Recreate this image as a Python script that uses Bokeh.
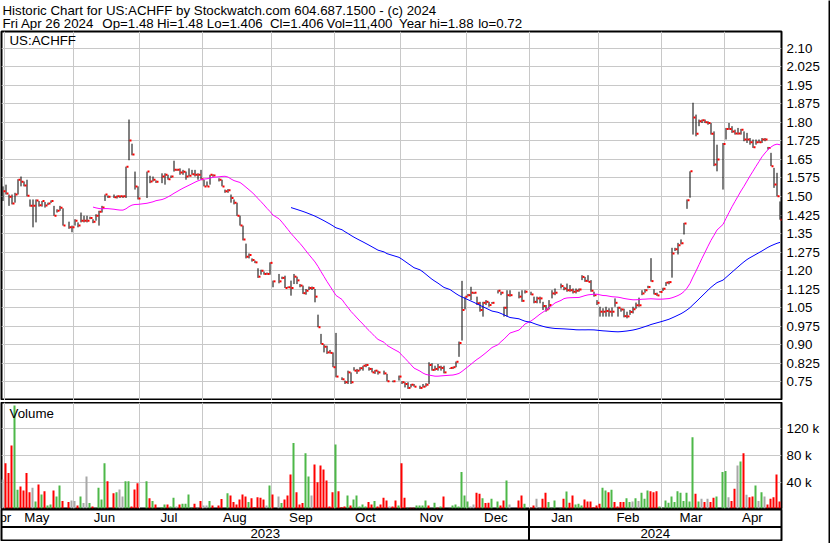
import pandas as pd
from bokeh.plotting import figure
from bokeh.models import Range1d, FixedTicker, Span, CustomJSTickFormatter
from bokeh.layouts import column, row
from bokeh.embed import file_html
from bokeh.resources import INLINE
from bokeh.core.properties import value

# ---------------------------------------------------------------------------
# Daily data, one entry per weekday: slot 0 = Fri 28 Apr 2023 ... slot 260 = Fri 26 Apr 2024.
# None = no trade that day.
# ---------------------------------------------------------------------------
symbol = "US:ACHFF"
last_open = 1.48

high = [
    None, 1.541, 1.548, 1.508, 1.508, 1.515, 1.570, 1.581, 1.561, 1.568,
    1.488, 1.488, 1.488, 1.482, 1.482, 1.478, 1.475, 1.484, 1.462, 1.448,
    1.462, 1.452, None, 1.398, 1.382, 1.408, 1.395, 1.435, 1.422, 1.422,
    1.418, 1.408, 1.428, 1.442, 1.462, 1.508, 1.504, None, 1.508, 1.504,
    1.504, 1.504, 1.621, 1.812, 1.714, 1.601, 1.541, None, None, 1.601,
    1.584, 1.581, 1.565, None, 1.594, 1.594, 1.588, 1.585, 1.645, 1.612,
    1.614, 1.608, 1.601, 1.614, 1.608, 1.608, 1.594, 1.608, 1.568, 1.561,
    1.588, 1.590, None, 1.574, 1.568, 1.528, 1.530, 1.508, 1.488, 1.475,
    1.422, 1.382, 1.309, 1.269, 1.249, 1.240, 1.209, 1.203, 1.196, 1.192,
    1.233, 1.159, None, 1.186, 1.175, 1.179, 1.135, 1.159, 1.186, 1.175,
    1.145, 1.139, 1.125, 1.135, 1.135, 1.125, 1.021, 0.943, 0.900, 0.895,
    0.878, 0.868, 0.947, None, 0.767, 0.754, 0.794, 0.787, 0.808, 0.801,
    0.808, 0.814, 0.821, 0.808, 0.805, 0.797, 0.794, None, 0.794, 0.781,
    None, 0.754, None, 0.774, 0.751, 0.747, 0.747, 0.740, 0.740, None,
    0.733, 0.740, 0.743, 0.828, 0.824, 0.814, 0.821, 0.814, 0.814, None,
    0.805, 0.810, 0.831, 0.912, 1.158, 1.094, 1.105, 1.134, 1.112, 1.094,
    1.073, 1.073, 1.080, 1.073, 1.072, None, 1.120, 1.114, 1.053, 1.120,
    1.120, None, None, 1.114, 1.120, 1.120, None, 1.114, 1.094, 1.094,
    1.094, 1.073, 1.060, 1.080, 1.120, 1.127, None, 1.147, 1.134, 1.147,
    1.141, 1.127, 1.127, 1.127, 1.181, 1.174, 1.181, 1.161, 1.114, 1.080,
    1.053, 1.047, 1.053, 1.047, 1.050, 1.087, 1.053, 1.047, 1.045, 1.033,
    1.040, 1.053, 1.070, 1.090, 1.120, 1.124, 1.138, 1.250, 1.124, 1.110,
    1.117, 1.130, 1.153, 1.157, 1.292, 1.292, 1.312, 1.326, 1.393, 1.488,
    1.602, 1.880, 1.832, 1.812, 1.812, 1.812, 1.805, 1.798, 1.764, 1.710,
    None, 1.717, 1.778, 1.798, 1.785, 1.771, 1.778, 1.774, 1.764, 1.758,
    1.737, 1.731, 1.731, 1.731, 1.737, 1.737, 1.701, 1.677, 1.616, 1.596, 1.480,
]

low = [
    None, 1.482, 1.508, 1.462, 1.468, 1.475, 1.508, 1.541, 1.541, 1.501,
    1.459, 1.375, 1.395, 1.459, 1.459, 1.455, 1.465, 1.474, 1.422, 1.435,
    1.442, 1.382, None, 1.369, 1.355, 1.382, 1.375, 1.395, 1.395, 1.395,
    1.408, 1.392, 1.402, 1.382, 1.435, 1.482, 1.494, None, 1.494, 1.492,
    1.494, 1.494, 1.494, 1.647, 1.667, 1.528, 1.488, None, None, 1.494,
    1.554, 1.561, 1.555, None, 1.554, 1.548, 1.568, 1.575, 1.601, 1.604,
    1.588, 1.588, 1.568, 1.581, 1.588, 1.581, 1.568, 1.568, 1.541, 1.541,
    1.548, 1.580, None, 1.561, 1.541, 1.515, 1.515, 1.475, 1.468, 1.422,
    1.382, 1.322, 1.249, 1.249, 1.236, 1.230, 1.170, 1.183, 1.183, 1.183,
    1.183, 1.132, None, 1.148, 1.165, 1.129, 1.129, 1.098, 1.145, 1.145,
    1.132, 1.105, 1.102, 1.121, 1.121, 1.071, 0.970, 0.902, 0.868, 0.862,
    0.864, 0.808, 0.767, None, 0.756, 0.740, 0.740, 0.740, 0.794, 0.781,
    0.794, 0.794, 0.808, 0.794, 0.787, 0.781, 0.778, None, 0.778, 0.751,
    None, 0.747, None, 0.754, 0.740, 0.726, 0.720, 0.726, 0.729, None,
    0.720, 0.726, 0.729, 0.740, 0.794, 0.794, 0.794, 0.794, 0.783, None,
    0.801, 0.801, 0.808, 0.850, 0.916, 1.042, 1.095, 1.080, 1.105, 1.060,
    1.033, 1.013, 1.060, 1.053, 1.065, None, 1.107, 1.100, 1.013, 1.013,
    1.094, None, None, 1.087, 1.073, 1.107, None, 1.100, 1.067, 1.067,
    1.067, 1.040, 1.033, 1.042, 1.087, 1.100, None, 1.127, 1.120, 1.114,
    1.114, 1.107, 1.107, 1.114, 1.161, 1.154, 1.154, 1.114, 1.094, 1.060,
    1.013, 1.013, 1.013, 1.013, 1.013, 1.053, 1.013, 1.033, 1.010, 1.006,
    1.020, 1.026, 1.045, 1.053, 1.100, 1.110, 1.128, 1.155, 1.103, 1.097,
    1.110, 1.117, 1.137, 1.144, 1.171, 1.279, 1.265, 1.306, 1.346, 1.450,
    1.495, 1.751, 1.744, 1.785, 1.798, 1.798, 1.791, 1.751, 1.623, 1.602,
    None, 1.528, 1.731, 1.771, 1.758, 1.751, 1.751, 1.751, 1.724, 1.717,
    1.710, 1.697, 1.710, 1.717, 1.717, 1.724, 1.690, 1.623, 1.535, 1.501, 1.406,
]

close = [
    None, 1.521, 1.512, 1.499, 1.472, 1.508, 1.568, 1.560, 1.545, 1.503,
    1.462, 1.462, 1.484, 1.465, 1.482, 1.464, 1.472, 1.482, 1.422, 1.442,
    1.454, 1.382, None, 1.375, 1.375, 1.402, 1.382, 1.402, 1.402, 1.402,
    1.413, 1.398, 1.422, 1.438, 1.455, 1.508, 1.499, None, 1.497, 1.501,
    1.501, 1.501, 1.621, 1.727, 1.670, 1.541, 1.492, None, None, 1.601,
    1.561, 1.568, 1.560, None, 1.581, 1.588, 1.570, 1.581, 1.608, 1.608,
    1.597, 1.600, 1.581, 1.584, 1.590, 1.588, 1.588, 1.570, 1.541, 1.541,
    1.588, 1.585, None, 1.568, 1.541, 1.521, 1.525, 1.494, 1.475, 1.422,
    1.382, 1.326, 1.256, 1.263, 1.243, 1.233, 1.175, 1.199, 1.186, 1.186,
    1.231, 1.156, None, 1.156, 1.170, 1.129, 1.132, 1.129, 1.175, 1.160,
    1.139, 1.108, 1.118, 1.129, 1.129, 1.094, 0.970, 0.902, 0.891, 0.868,
    0.866, 0.808, 0.770, None, 0.759, 0.747, 0.787, 0.747, 0.794, 0.794,
    0.804, 0.814, 0.817, 0.801, 0.787, 0.794, 0.787, None, 0.783, 0.751,
    None, 0.751, None, 0.770, 0.747, 0.740, 0.724, 0.737, 0.729, None,
    0.724, 0.729, 0.737, 0.817, 0.797, 0.801, 0.808, 0.805, 0.787, None,
    0.805, 0.808, 0.830, 0.906, 1.040, 1.094, 1.100, 1.110, 1.110, 1.067,
    1.040, 1.069, 1.073, 1.060, 1.069, None, 1.118, 1.110, 1.049, 1.100,
    1.100, None, None, 1.094, 1.077, 1.114, None, 1.103, 1.073, 1.087,
    1.087, 1.056, 1.042, 1.060, 1.107, 1.110, None, 1.137, 1.127, 1.120,
    1.120, 1.114, 1.118, 1.123, 1.174, 1.158, 1.154, 1.118, 1.100, 1.069,
    1.033, 1.033, 1.036, 1.033, 1.033, 1.069, 1.049, 1.042, 1.015, 1.014,
    1.032, 1.043, 1.059, 1.059, 1.107, 1.120, 1.133, 1.157, 1.105, 1.099,
    1.113, 1.126, 1.151, 1.153, 1.269, 1.286, 1.302, 1.310, 1.391, 1.485,
    1.602, 1.820, 1.754, 1.805, 1.809, 1.801, 1.798, 1.754, 1.630, 1.650,
    None, 1.713, 1.774, 1.774, 1.764, 1.755, 1.755, 1.771, 1.731, 1.731,
    1.720, 1.700, 1.720, 1.720, 1.731, 1.731, 1.697, 1.623, 1.549, 1.501, 1.406,
]

# volume in thousands of shares
volume_k = [
    None, 44.2, 68.6, 53.7, 95.1, 155.0, 28.7, 33.7, 27.7, 53.7,
    25.2, 31.7, 11.3, 36.7, 21.7, 26.7, 5.3, 6.8, 27.7, 18.7,
    35.2, 11.8, None, 10.3, 12.8, 11.8, 5.3, 18.7, 8.8, 48.7,
    8.8, 3.8, 1.3, 31.7, 14.3, 68.6, 41.7, None, 23.7, 25.2,
    29.2, 18.7, 41.7, 41.7, 3.8, 29.2, 38.7, None, None, 41.7,
    16.2, 11.8, 6.8, None, 2.8, 6.8, 6.8, 3.8, 16.7, 3.8,
    6.8, 7.8, 7.8, 21.7, 1.8, 7.8, 1.8, 11.8, 5.3, 5.3,
    11.8, 5.3, None, 5.3, 14.8, None, 23.7, 20.2, 10.3, 6.8,
    14.3, 21.7, 18.7, 10.3, 16.2, 2.8, 17.7, 16.7, 14.3, 5.3,
    35.2, 21.7, None, 18.7, 8.8, 14.3, 20.2, 51.7, 98.6, 25.2,
    6.8, 8.8, 83.6, 48.7, 20.2, 66.6, 40.2, 65.1, 59.1, 42.7,
    3.8, 25.2, 96.6, 26.7, 2.8, 3.8, 20.2, 5.3, 14.3, 20.2,
    3.8, 6.8, 3.8, 10.3, 6.8, 11.8, 3.8, 6.8, 16.7, 12.8,
    3.8, 3.8, 12.8, 5.3, 68.6, 16.7, 1.8, 1.8, 1.8, 5.3,
    5.3, 5.3, 12.8, 5.3, 1.3, 9.3, 1.8, 3.8, 18.7, None,
    1.3, 5.3, 6.8, 3.8, 55.2, 20.2, 11.3, 3.8, 6.8, 24.2,
    22.7, 16.2, 8.8, 9.3, 15.3, None, 11.3, 5.3, 12.8, 42.7,
    6.8, None, None, 12.8, 20.2, 7.8, None, 1.8, 5.3, 15.3,
    1.8, 15.3, 24.2, 10.3, 1.8, 12.8, None, 1.8, 15.3, 26.2,
    9.3, 20.2, 6.8, 7.8, 5.3, 14.3, 11.3, 11.3, 2.8, 5.3,
    7.8, 31.7, 27.7, 25.2, 28.7, 10.3, 3.8, 10.3, 10.3, 16.2,
    10.3, 11.3, 16.2, 11.8, 24.2, 15.3, 27.7, 26.7, 25.2, 26.7,
    3.8, 1.8, 12.8, 9.3, 18.7, 10.3, 26.7, 24.2, 11.8, 24.2,
    11.3, 107.5, 22.7, 11.3, 15.3, 10.3, 15.3, 10.3, 16.7, 18.7,
    None, 55.2, 56.7, 17.7, 11.8, 30.2, 65.1, 71.1, 83.6, 21.2,
    17.7, 18.7, 35.2, 11.8, 25.2, 18.7, 6.8, 15.3, 17.7, 51.7, 11.4,
]

# day's move per slot: u = up, d = down, n = unchanged, - = no trade
day_move = (
    "-nddduuddd" "dnududuudu" "ud-dnndunn" "uduuuud-du" "nnuuddd--u"
    "dud-uuduun" "duuuudndnn" "ud-dd-uddd" "dddudddddn" "ud-nudddud"
    "dduunddddd" "dduddduduu" "uuuddudddd" "nddudduddu" "uuuduudud-"
    "uuuuuuunnd" "duddu-uddu" "n--ddu-ddn" "ndduuu-udu" "dduuuddddd"
    "duududdddu" "ununuuuddd" "uuuuuuuuuu" "uudundnddu" "-uunddnudn"
    "ddununddddd"
)

# first weekday slot of each month, May 2023 .. Apr 2024
month_start = [1, 24, 46, 67, 90, 111, 133, 155, 176, 199, 220, 241]
month_names = ["Apr", "May", "Jun", "Jul", "Aug", "Sep", "Oct", "Nov", "Dec",
               "Jan", "Feb", "Mar", "Apr"]
year_names = ["2023", "2024"]

price_ticks = [0.75, 0.825, 0.90, 0.975, 1.05, 1.125, 1.20, 1.275, 1.35, 1.425,
               1.50, 1.575, 1.65, 1.725, 1.80, 1.875, 1.95, 2.025, 2.10]
volume_ticks_k = [40, 80, 120]
ma_short, ma_long = 30, 90

n = len(close)
assert len(high) == n and len(low) == n and len(volume_k) == n and len(day_move) == n

# ---------------------------------------------------------------------------
# Styling / geometry
# ---------------------------------------------------------------------------
FONT = "Liberation Sans"
FS = "13.3px"
GRID = "#c8c8c8"
MOVE_COLOR = {"u": "#4db848", "d": "#ff0000", "n": "#a8a8a8"}

W = 828                 # width of the chart column (plus a 2 px border strip)
FRAME_W = 780           # plotting area width, 3 px per weekday
X0 = 0.5
X1 = X0 + FRAME_W / 3.0
xr = Range1d(X0, X1)

PRICE_LO, PRICE_HI, PRICE_FRAME_H = 0.6730, 2.1689, 369
VOL_LO, VOL_HI, VOL_FRAME_H = 0.75, 159.4, 106

month_grid = [m + 1 / 3 for m in month_start]


def panel(height, y_range, top, bottom, axis=True):
    p = figure(width=W, height=height, x_range=xr, y_range=y_range,
               output_backend="svg", toolbar_location=None,
               x_axis_location=None, y_axis_location="right" if axis else None,
               min_border_left=1, min_border_right=W - 1 - FRAME_W,
               min_border_top=top, min_border_bottom=bottom,
               outline_line_color="black", outline_line_width=2,
               background_fill_color="white", border_fill_color="white")
    p.xgrid.ticker = FixedTicker(ticks=month_grid)
    p.grid.grid_line_color = GRID
    p.grid.grid_line_width = 1
    return p


def style_axis(p, ticks, code):
    t = FixedTicker(ticks=ticks)
    p.ygrid.ticker = t
    ax = p.yaxis[0]
    ax.ticker = t
    ax.formatter = CustomJSTickFormatter(code=code)
    ax.axis_line_color = None
    ax.major_tick_line_color = None
    ax.minor_tick_line_color = None
    ax.major_tick_out = 0
    ax.major_tick_in = 0
    ax.major_label_standoff = 5
    ax.major_label_text_font = FONT
    ax.major_label_text_font_size = FS
    ax.major_label_text_color = "black"


def strip(w, h):
    s = figure(width=w, height=h, min_border=0, toolbar_location=None,
               x_axis_location=None, y_axis_location=None, outline_line_color=None,
               background_fill_color="black", border_fill_color="black",
               output_backend="svg")
    s.grid.visible = False
    return s


# texts are anchored on the vertical middle of their capitals
text_kw = dict(text_font=value(FONT), text_font_size=FS, text_color="black",
               text_baseline="middle")

# ---------------------------------------------------------------------------
# Header
# ---------------------------------------------------------------------------
head = figure(width=W, height=30, x_range=Range1d(0, W), y_range=Range1d(30, 0),
              min_border=0, x_axis_location=None, y_axis_location=None,
              outline_line_color=None, toolbar_location=None, output_backend="svg",
              background_fill_color="white", border_fill_color="white")
head.grid.visible = False
line1 = f"Historic Chart for {symbol} by Stockwatch.com 604.687.1500 - (c) 2024"
year_hi = max(v for v in high if v is not None)
year_lo = min(v for v in low if v is not None)
fields = ["Fri Apr 26 2024", f"Op={last_open:g}", f"Hi={high[-1]:g}",
          f"Lo={low[-1]:g}", f"Cl={close[-1]:g}", f"Vol={volume_k[-1] * 1000:,.0f}",
          f"Year hi={year_hi:g}", f"lo={year_lo:g}"]
field_x = [1, 107, 165, 218, 285, 345, 422, 506]
head.text(x=[1], y=[9.8], text=[line1], **text_kw)
head.text(x=field_x, y=[22.8] * len(fields), text=fields, **text_kw)

# ---------------------------------------------------------------------------
# Price panel: high-low bars with close ticks, 30/90 day moving averages
# ---------------------------------------------------------------------------
price = panel(370, Range1d(PRICE_LO, PRICE_HI), top=1, bottom=0)
style_axis(price, price_ticks, 'return tick.toFixed(3).replace(/0$/, "");')

traded = [i for i in range(n) if close[i] is not None]
price.segment(x0=traded, x1=traded,
              y0=[low[i] for i in traded], y1=[high[i] for i in traded],
              line_color="black", line_width=1)
price.rect(x=[i + 0.5 for i in traded], y=[close[i] for i in traded],
           width=2, height=2, width_units="screen", height_units="screen",
           fill_color="#ff0000", line_color=None)

closes = pd.Series(close, dtype="float64").dropna()
ma_s = closes.rolling(ma_short).mean().dropna()
ma_l = closes.rolling(ma_long).mean().dropna()
price.line(ma_s.index.values, ma_s.values, line_color="#ff00ff", line_width=1)
price.line(ma_l.index.values, ma_l.values, line_color="#0000ff", line_width=1)

px_per_price = PRICE_FRAME_H / (PRICE_HI - PRICE_LO)
price.text(x=[X0 + 8 / 3], y=[PRICE_HI - 9 / px_per_price], text=[symbol], **text_kw)

# ---------------------------------------------------------------------------
# Volume panel
# ---------------------------------------------------------------------------
vol = panel(107, Range1d(VOL_LO, VOL_HI), top=0, bottom=1)
style_axis(vol, volume_ticks_k, 'return tick + " k";')
vi = [i for i in range(n) if volume_k[i] is not None and day_move[i] in MOVE_COLOR]
vol.vbar(x=[i - 1 / 6 for i in vi], width=2 / 3, bottom=0,
         top=[volume_k[i] for i in vi],
         fill_color=[MOVE_COLOR[day_move[i]] for i in vi], line_color=None)
px_per_k = VOL_FRAME_H / (VOL_HI - VOL_LO)
vol.text(x=[X0 + 8 / 3], y=[VOL_HI - 11 / px_per_k], text=["Volume"], **text_kw)

# ---------------------------------------------------------------------------
# Date axis: month row and year row
# ---------------------------------------------------------------------------
dates = panel(32, Range1d(32, 0), top=0, bottom=0, axis=False)
dates.grid.visible = False
bounds = [0] + month_start + [n]
month_x = [(bounds[k] + bounds[k + 1]) / 2 - 0.2 for k in range(len(month_names))]
dates.text(x=month_x, y=[8.3] * len(month_names), text=month_names,
           text_align="center", **text_kw)
jan = month_grid[month_names.index("Jan") - 1]
dates.text(x=[(X0 + jan) / 2, (jan + X1) / 2], y=[24, 24], text=year_names,
           text_align="center", **text_kw)
dates.add_layout(Span(location=17.5, dimension="width", line_color="black", line_width=2))
dates.add_layout(Span(location=jan, dimension="height", line_color="black", line_width=2))

layout = row(column(head, price, strip(W, 2), vol, dates, strip(W, 2)), strip(2, 543))

open("out.html", "w").write(file_html(layout, INLINE))
